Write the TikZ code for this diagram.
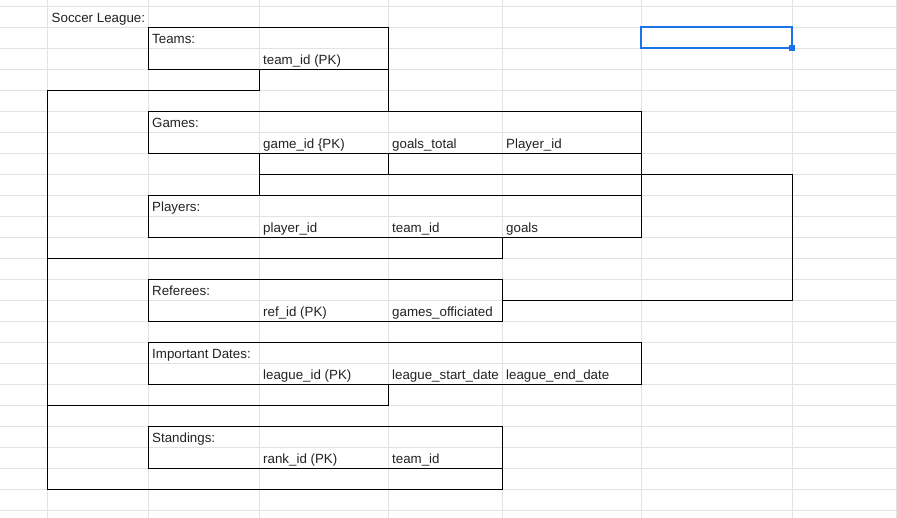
\documentclass[tikz,border=0pt]{standalone}
\usepackage{fontspec}
\setmainfont{Liberation Sans}
\definecolor{gridc}{HTML}{E2E2E2}
\definecolor{selblue}{HTML}{1A73E8}
\definecolor{txtc}{HTML}{222222}
\tikzset{
  gridline/.style={draw=gridc, line width=1pt},
  bd/.style={draw=black, line width=1pt, line cap=square},
  txt/.style={anchor=base west, inner sep=0pt, text=txtc, font=\fontsize{13.33}{16}\selectfont},
  tbl/.style={bd, rectangle},
}
\begin{document}
\begin{tikzpicture}[x=1pt,y=-1pt]
\useasboundingbox (0,0) rectangle (897,518);
\fill[white] (0,0) rectangle (897,518);
% spreadsheet grid
\foreach \k in {0,...,24} \draw[gridline] (0,{6.3+21*\k}) -- (897,{6.3+21*\k});
\foreach \cx in {47.7,148.3,259.3,388.3,502.3,641.3,792.3,896} \draw[gridline] (\cx,0) -- (\cx,518);
% column coordinates
\coordinate (tA) at (148.3,27.3); \coordinate (tB) at (388.3,69.3);
\coordinate (gA) at (148.3,111.3); \coordinate (gB) at (641.3,153.3);
\coordinate (pA) at (148.3,195.3); \coordinate (pB) at (641.3,237.3);
\coordinate (rA) at (148.3,279.3); \coordinate (rB) at (502.3,321.3);
\coordinate (dA) at (148.3,342.3); \coordinate (dB) at (641.3,384.3);
\coordinate (sA) at (148.3,426.3); \coordinate (sB) at (502.3,468.3);
% table boxes
\draw[bd] (tA) rectangle (tB);
\draw[bd] (gA) rectangle (gB);
\draw[bd] (pA) rectangle (pB);
\draw[bd] (rA) rectangle (rB);
\draw[bd] (dA) rectangle (dB);
\draw[bd] (sA) rectangle (sB);
% connectors
\draw[bd] (tB) -- (388.3,111.3);
\draw[bd] (259.3,69.3) -- (259.3,90.3) -- (47.7,90.3) -- (47.7,489.3) -- (502.3,489.3) -- (sB);
\draw[bd] (47.7,258.3) -- (502.3,258.3) -- (502.3,237.3);
\draw[bd] (47.7,405.3) -- (388.3,405.3) -- (388.3,384.3);
\draw[bd] (gB) -- (641.3,195.3);
\draw[bd] (259.3,153.3) -- (259.3,195.3);
\draw[bd] (388.3,153.3) -- (388.3,174.3);
\draw[bd] (259.3,174.3) -- (792.3,174.3) -- (792.3,300.3) -- (502.3,300.3);
% selection
\draw[selblue, line width=2pt] (641.3,27.3) rectangle (792.3,48.3);
\fill[selblue] (789,45.3) rectangle (795,51);
% texts
\node[txt] (soccer) at (51.5,22.3) {Soccer League:};
\node[txt] (teams) at (152,43.3) {Teams:};
\node[txt] (teamid) at (263,64.3) {team\_id (PK)};
\node[txt] (games) at (152,127.3) {Games:};
\node[txt] (gameid) at (263,148.3) {game\_id \{PK)};
\node[txt] (goalstot) at (392,148.3) {goals\_total};
\node[txt] (playerid1) at (506,148.3) {Player\_id};
\node[txt] (players) at (152,211.3) {Players:};
\node[txt] (playerid) at (263,232.3) {player\_id};
\node[txt] (pteamid) at (392,232.3) {team\_id};
\node[txt] (goals) at (506,232.3) {goals};
\node[txt] (referees) at (152,295.3) {Referees:};
\node[txt] (refid) at (263,316.3) {ref\_id (PK)};
\node[txt] (gamesoff) at (392,316.3) {games\_officiated};
\node[txt] (dates) at (152,358.3) {Important Dates:};
\node[txt] (leagueid) at (263,379.3) {league\_id (PK)};
\node[txt] (lstart) at (392,379.3) {league\_start\_date};
\node[txt] (lend) at (506,379.3) {league\_end\_date};
\node[txt] (standings) at (152,442.3) {Standings:};
\node[txt] (rankid) at (263,463.3) {rank\_id (PK)};
\node[txt] (steamid) at (392,463.3) {team\_id};
\end{tikzpicture}
\end{document}
